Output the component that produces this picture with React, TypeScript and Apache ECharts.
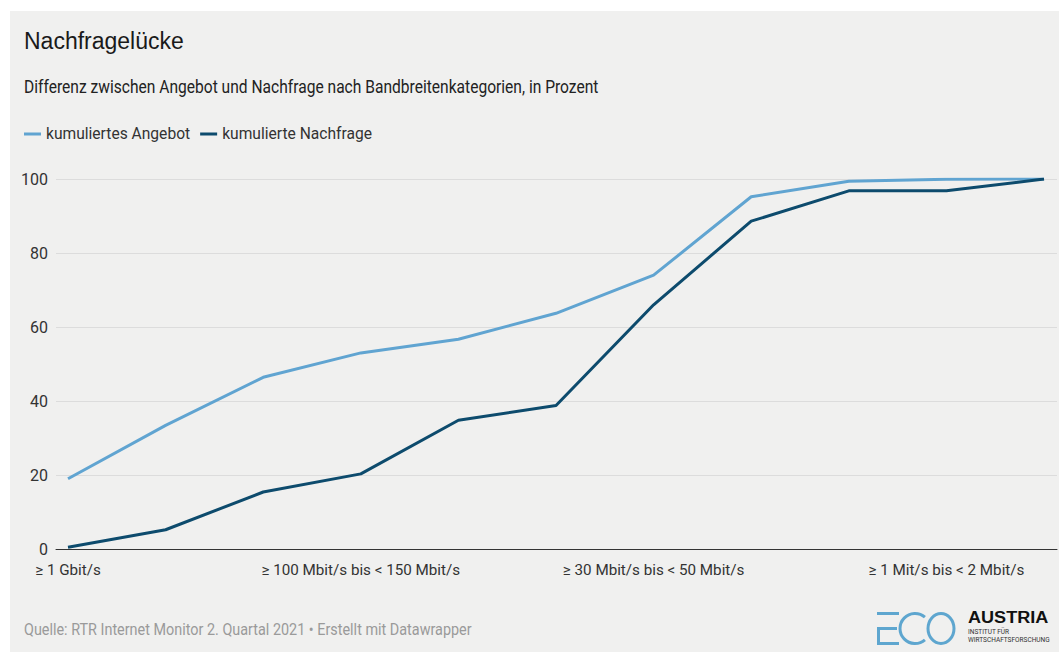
import React, { useEffect, useRef } from "react";
import * as echarts from "echarts";

const categories = [
  "≥ 1 Gbit/s",
  "≥ 300 Mbit/s bis < 1 Gbit/s",
  "≥ 150 Mbit/s bis < 300 Mbit/s",
  "≥ 100 Mbit/s bis < 150 Mbit/s",
  "≥ 75 Mbit/s bis < 100 Mbit/s",
  "≥ 50 Mbit/s bis < 75 Mbit/s",
  "≥ 30 Mbit/s bis < 50 Mbit/s",
  "≥ 10 Mbit/s bis < 30 Mbit/s",
  "≥ 2 Mbit/s bis < 10 Mbit/s",
  "≥ 1 Mit/s bis < 2 Mbit/s",
  "< 1 Mbit/s",
];
const labeledIndices = [0, 3, 6, 9];
const angebot = [19.0, 33.4, 46.4, 53.0, 56.7, 63.7, 74.0, 95.2, 99.4, 99.9, 100];
const nachfrage = [0.5, 5.2, 15.4, 20.3, 34.8, 38.8, 66.0, 88.6, 96.8, 96.8, 100];
const yTicks = [0, 20, 40, 60, 80, 100];

const seriesNames = ["kumuliertes Angebot", "kumulierte Nachfrage"];
const LIGHT = "#60a4d1";
const DARK = "#0d4b6d";
const FONT = "Roboto, 'Liberation Sans', Arial, sans-serif";

export default function App() {
  const ref = useRef<HTMLDivElement>(null);
  useEffect(() => {
    if (!ref.current) return;
    const chart = echarts.init(ref.current, null, { renderer: "svg" });
    chart.setOption({
      animation: false,
      backgroundColor: "transparent",
      textStyle: { fontFamily: FONT },
      legend: {
        left: 24,
        top: 125,
        padding: 0,
        itemWidth: 17,
        itemHeight: 3,
        itemGap: 10,
        icon: "rect",
        data: seriesNames,
        textStyle: { fontSize: 15.6, color: "#333", fontFamily: FONT, lineHeight: 18 },
      },
      grid: { left: 56, right: 2, top: 179, bottom: 106, containLabel: false },
      xAxis: {
        type: "value",
        min: -0.123,
        max: 10.133,
        splitLine: { show: false },
        axisTick: { show: false },
        axisLine: { show: true, onZero: true, lineStyle: { color: "#333", width: 1 } },
        axisLabel: {
          customValues: labeledIndices,
          formatter: (v: number) => categories[Math.round(v)] ?? "",
          fontSize: 15.2,
          color: "#333",
          margin: 13,
          fontFamily: FONT,
        },
      },
      yAxis: {
        type: "value",
        min: yTicks[0],
        max: yTicks[yTicks.length - 1],
        interval: 20,
        axisLine: { show: false },
        axisTick: { show: false },
        splitLine: { lineStyle: { color: "#dcdcdc", width: 1 } },
        axisLabel: { fontSize: 16, color: "#333", margin: 8, fontFamily: FONT },
      },
      series: [
        {
          name: seriesNames[0],
          type: "line",
          data: angebot.map((v, i) => [i, v]),
          showSymbol: false,
          symbol: "none",
          lineStyle: { color: LIGHT, width: 3 },
          itemStyle: { color: LIGHT },
          z: 3,
        },
        {
          name: seriesNames[1],
          type: "line",
          data: nachfrage.map((v, i) => [i, v]),
          showSymbol: false,
          symbol: "none",
          lineStyle: { color: DARK, width: 3 },
          itemStyle: { color: DARK },
          z: 4,
        },
      ],
      graphic: [
        {
          type: "text",
          x: 24,
          y: 41,
          style: {
            text: "Nachfragelücke",
            font: "23px 'Liberation Sans', Arial, sans-serif",
            fill: "#1a1a1a",
            textAlign: "left",
            textVerticalAlign: "middle",
          },
        },
        {
          type: "text",
          x: 24,
          y: 87,
          scaleX: 0.866,
          style: {
            text: "Differenz zwischen Angebot und Nachfrage nach Bandbreitenkategorien, in Prozent",
            font: "18px " + FONT,
            fill: "#222",
            textAlign: "left",
            textVerticalAlign: "middle",
          },
        },
        {
          type: "text",
          x: 24,
          y: 630,
          scaleX: 0.9,
          style: {
            text: "Quelle: RTR Internet Monitor 2. Quartal 2021 • Erstellt mit Datawrapper",
            font: "16px " + FONT,
            fill: "#9a9a9a",
            textAlign: "left",
            textVerticalAlign: "middle",
          },
        },
        // ECO logo
        { type: "rect", shape: { x: 877, y: 612, width: 22, height: 3 }, style: { fill: "#5ea6cf" } },
        { type: "rect", shape: { x: 877, y: 627, width: 20, height: 3 }, style: { fill: "#5ea6cf" } },
        { type: "rect", shape: { x: 877, y: 642, width: 22, height: 3 }, style: { fill: "#5ea6cf" } },
        { type: "rect", shape: { x: 877, y: 627, width: 3, height: 18 }, style: { fill: "#5ea6cf" } },
        {
          type: "arc",
          shape: { cx: 915, cy: 628.5, r: 15, startAngle: Math.PI * 0.27, endAngle: Math.PI * 1.73, clockwise: true },
          style: { stroke: "#5ea6cf", lineWidth: 3, fill: "none" },
        },
        {
          type: "ellipse",
          shape: { cx: 941, cy: 628.5, rx: 13, ry: 15 },
          style: { stroke: "#5ea6cf", lineWidth: 3, fill: "none" },
        },
        {
          type: "text",
          x: 968,
          y: 618,
          scaleX: 1.13,
          style: {
            text: "AUSTRIA",
            font: "bold 16px 'Liberation Sans', Arial, sans-serif",
            fill: "#111",
            textAlign: "left",
            textVerticalAlign: "middle",
          },
        },
        {
          type: "text",
          x: 968,
          y: 632,
          style: {
            text: "INSTITUT FÜR",
            font: "6.5px " + FONT,
            fill: "#333",
            textAlign: "left",
            textVerticalAlign: "middle",
          },
        },
        {
          type: "text",
          x: 968,
          y: 640,
          style: {
            text: "WIRTSCHAFTSFORSCHUNG",
            font: "6.5px " + FONT,
            fill: "#333",
            textAlign: "left",
            textVerticalAlign: "middle",
          },
        },
      ],
    });
    return () => chart.dispose();
  }, []);

  return (
    <div style={{ position: "absolute", left: 0, top: 0, width: 1059, height: 655, background: "#fff" }}>
      <div style={{ position: "absolute", left: 10, top: 11, width: 1049, height: 641, background: "#f0f0ef" }} />
      <div ref={ref} style={{ position: "absolute", left: 0, top: 0, width: 1059, height: 655 }} />
    </div>
  );
}
